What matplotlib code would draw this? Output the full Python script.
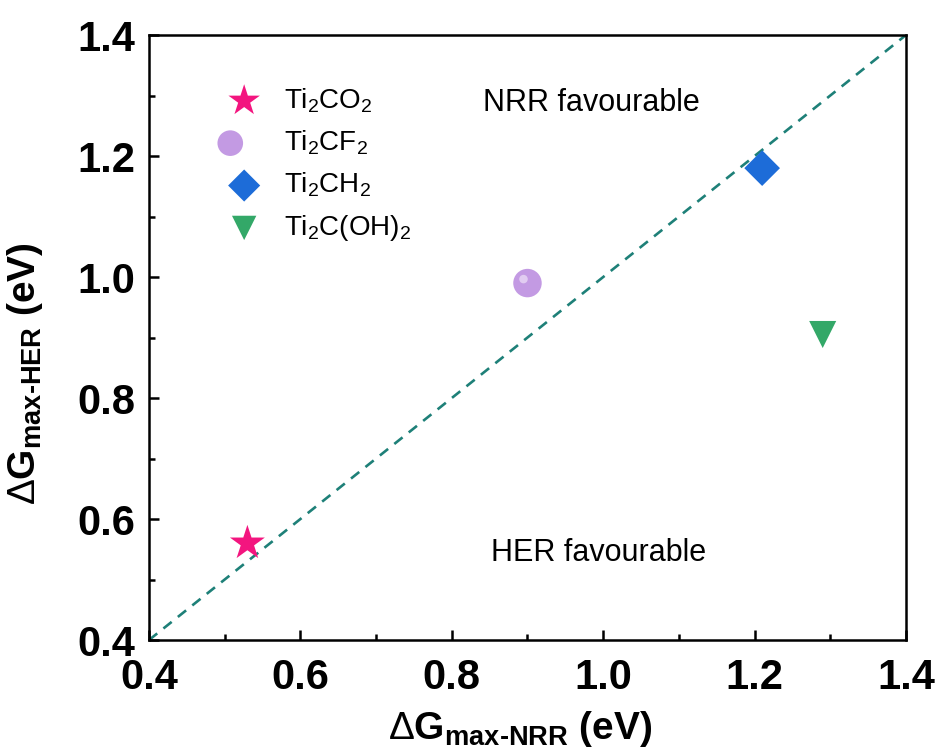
import matplotlib
matplotlib.use("Agg")
import matplotlib.pyplot as plt
from matplotlib.path import Path
from matplotlib.legend_handler import HandlerTuple

plt.rcParams["font.family"] = ["Liberation Sans", "DejaVu Sans"]
plt.rcParams["mathtext.fontset"] = "custom"
plt.rcParams["mathtext.rm"] = "Liberation Sans"
plt.rcParams["mathtext.it"] = "Liberation Sans:italic"
plt.rcParams["mathtext.bf"] = "Liberation Sans:bold"

# --- data -------------------------------------------------------------------
labels = [r"Ti$_2$CO$_2$", r"Ti$_2$CF$_2$", r"Ti$_2$CH$_2$", r"Ti$_2$C(OH)$_2$"]
dg_nrr = [0.53, 0.90, 1.21, 1.29]
dg_her = [0.56, 0.99, 1.18, 0.905]

markers = ["*", "o", "D", "v"]
colors = ["#F3157F", "#C39AE3", "#1D6CD8", "#33A868"]
sizes = [700, 420, 330, 380]

diag = [0.4, 1.4]
ticks = [0.4, 0.6, 0.8, 1.0, 1.2, 1.4]
minor_ticks = [0.5, 0.7, 0.9, 1.1, 1.3]

HYPH = "\u2010"

# highlight marker for the "sphere": circle offset to upper left,
# padded with bare MOVETOs so the marker keeps full scale
_circ = Path.circle((-0.28, 0.28), 0.3)
highlight = Path(
    list(_circ.vertices) + [(-1, -1), (1, 1)],
    list(_circ.codes) + [Path.MOVETO, Path.MOVETO],
)

fig = plt.figure(figsize=(9.4, 7.55), dpi=100)
ax = fig.add_axes([0.1585, 0.1523, 0.8053, 0.8013])

ax.plot(diag, diag, linestyle=(0, (4, 3)), color="#1E8078", linewidth=1.9, zorder=1)

handles = []
for i in range(len(labels)):
    h = ax.scatter(dg_nrr[i], dg_her[i], marker=markers[i], s=sizes[i],
                   color=colors[i], edgecolors="none", zorder=3)
    if markers[i] == "o":
        hl = ax.scatter(dg_nrr[i], dg_her[i], marker=highlight, s=sizes[i],
                        color="white", alpha=0.5, edgecolors="none", zorder=4)
        handles.append((h, hl))
    else:
        handles.append(h)

ax.legend(handles, labels, loc="upper left", bbox_to_anchor=(0.056, 0.957),
          frameon=False, fontsize=20, labelspacing=0.5, handletextpad=0.45,
          scatterpoints=1, markerscale=0.9,
          handler_map={tuple: HandlerTuple(ndivide=None, pad=0)})

ax.text(0.841, 1.288, "NRR favourable", fontsize=22, va="center", ha="left")
ax.text(0.852, 0.544, "HER favourable", fontsize=22, va="center", ha="left")

ax.set_xlim(0.4, 1.4)
ax.set_ylim(0.4, 1.4)
ax.set_xticks(ticks)
ax.set_yticks(ticks)
ax.set_xticks(minor_ticks, minor=True)
ax.set_yticks(minor_ticks, minor=True)
ax.set_xticklabels([f"{t:.1f}" for t in ticks])
ax.set_yticklabels([f"{t:.1f}" for t in ticks])
ax.tick_params(which="both", direction="in", top=False, right=False, width=1.8)
ax.tick_params(which="major", length=7, labelsize=30)
ax.tick_params(axis="x", which="major", pad=13)
ax.tick_params(axis="y", which="major", pad=10)
ax.tick_params(which="minor", length=4)
for lab in ax.get_xticklabels() + ax.get_yticklabels():
    lab.set_fontweight("bold")
for sp in ax.spines.values():
    sp.set_linewidth(1.8)

ax.set_xlabel("$\\mathrm{\\Delta}\\mathbf{G_{max" + HYPH + "NRR}}$ (eV)",
              fontsize=28, fontweight="bold")
ax.set_ylabel("$\\mathrm{\\Delta}\\mathbf{G_{max" + HYPH + "HER}}$ (eV)",
              fontsize=28, fontweight="bold")
ax.xaxis.set_label_coords(0.49, -0.114)
ax.yaxis.set_label_coords(-0.137, 0.441)

fig.savefig("out.png", dpi=100)
